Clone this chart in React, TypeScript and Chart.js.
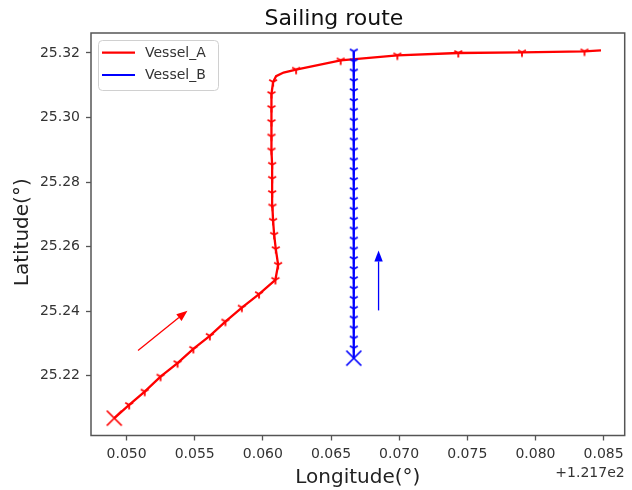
import React, { useEffect, useRef } from "react";
import { Chart, registerables } from "chart.js";

Chart.register(...registerables);

// ---- data (longitude in degrees, latitude in degrees) ----
const LON_OFFSET = 121.7;

const vesselALon = [
  121.7491, 121.75019, 121.75133, 121.75249, 121.75374, 121.7549, 121.75611, 121.75725,
  121.75846, 121.75972, 121.76092, 121.76112, 121.76095, 121.76083, 121.76075, 121.7607,
  121.76068, 121.76068, 121.76068, 121.76063, 121.76063, 121.76063, 121.76063, 121.76063,
  121.76075, 121.76097, 121.76152, 121.76244, 121.76571, 121.76987, 121.77434, 121.77901,
  121.7836, 121.78481,
];
const vesselALat = [
  25.20679, 25.21091, 25.21504, 25.21969, 25.22385, 25.22828, 25.23231, 25.23675,
  25.24109, 25.24525, 25.24968, 25.25434, 25.25921, 25.26364, 25.26798, 25.27242,
  25.27658, 25.28101, 25.28535, 25.28979, 25.29413, 25.2986, 25.30294, 25.30728,
  25.311, 25.3128, 25.31395, 25.31482, 25.3177, 25.31926, 25.32, 25.32019,
  25.3205, 25.32081,
];
// which samples carry a marker
const vesselAMarked = [
  1, 1, 1, 1, 1, 1, 1, 1, 1, 1, 1, 1, 1, 1, 1, 1,
  1, 1, 1, 1, 1, 1, 1, 1, 1, 0, 0, 1, 1, 1, 1, 1,
  1, 0,
];

const vesselBLon = [
  121.76667, 121.76667, 121.76667, 121.76667, 121.76667, 121.76667, 121.76667, 121.76667,
  121.76667, 121.76667, 121.76667, 121.76667, 121.76667, 121.76667, 121.76667, 121.76667,
  121.76667, 121.76667, 121.76667, 121.76667, 121.76667, 121.76667, 121.76667, 121.76667,
  121.76667, 121.76667, 121.76667, 121.76667, 121.76667, 121.76667, 121.76667, 121.76667,
];
const vesselBLat = [
  25.2254, 25.2285, 25.2315, 25.2346, 25.2377, 25.2407, 25.2438, 25.2469,
  25.2499, 25.253, 25.2561, 25.2591, 25.2622, 25.2653, 25.2683, 25.2714,
  25.2745, 25.2775, 25.2806, 25.2837, 25.2867, 25.2898, 25.2929, 25.2959,
  25.299, 25.3021, 25.3051, 25.3082, 25.3113, 25.3143, 25.3174, 25.3205,
];

// direction arrows: [tailLon, tailLat, tipLon, tipLat]
const arrowA = [121.75084, 25.2278, 121.75447, 25.2401];
const arrowB = [121.76849, 25.2402, 121.76849, 25.2588];

const xTicks = [121.75, 121.755, 121.76, 121.765, 121.77, 121.775, 121.78, 121.785];
const yTicks = [25.22, 25.24, 25.26, 25.28, 25.3, 25.32];

const X_MIN = 121.74739;
const X_MAX = 121.78655;
const Y_MIN = 25.20142;
const Y_MAX = 25.3262;

const TITLE = "Sailing route";
const X_LABEL = "Longitude(°)";
const Y_LABEL = "Latitude(°)";
const OFFSET_TEXT = "+1.217e2";

const RED = "#ff0000";
const BLUE = "#0000ff";
const FONT = "'DejaVu Sans', 'Liberation Sans', sans-serif";

function makeTri(color: string) {
  const c = document.createElement("canvas");
  c.width = 12;
  c.height = 12;
  const g = c.getContext("2d")!;
  g.strokeStyle = color;
  g.lineWidth = 1.8;
  const cx = 6, cy = 6, r = 4.5;
  g.beginPath();
  g.moveTo(cx, cy); g.lineTo(cx, cy + r);
  g.moveTo(cx, cy); g.lineTo(cx - r * 0.866, cy - r * 0.5);
  g.moveTo(cx, cy); g.lineTo(cx + r * 0.866, cy - r * 0.5);
  g.stroke();
  return c;
}

function makeX(color: string) {
  const c = document.createElement("canvas");
  c.width = 20;
  c.height = 20;
  const g = c.getContext("2d")!;
  g.strokeStyle = color;
  g.lineWidth = 1.7;
  const cx = 10, cy = 10, h = 7.5;
  g.beginPath();
  g.moveTo(cx - h, cy - h); g.lineTo(cx + h, cy + h);
  g.moveTo(cx + h, cy - h); g.lineTo(cx - h, cy + h);
  g.stroke();
  return c;
}

function drawArrow(ctx: CanvasRenderingContext2D, chart: any, a: number[], color: string) {
  const xs = chart.scales.x, ys = chart.scales.y;
  const x0 = xs.getPixelForValue(a[0]), y0 = ys.getPixelForValue(a[1]);
  const x1 = xs.getPixelForValue(a[2]), y1 = ys.getPixelForValue(a[3]);
  const ang = Math.atan2(y1 - y0, x1 - x0);
  const hl = 11, hw = 4.2;
  const bx = x1 - hl * Math.cos(ang), by = y1 - hl * Math.sin(ang);
  ctx.save();
  ctx.strokeStyle = color;
  ctx.fillStyle = color;
  ctx.lineWidth = 1.3;
  ctx.beginPath();
  ctx.moveTo(x0, y0);
  ctx.lineTo(bx, by);
  ctx.stroke();
  ctx.beginPath();
  ctx.moveTo(x1, y1);
  ctx.lineTo(bx + hw * Math.sin(ang), by - hw * Math.cos(ang));
  ctx.lineTo(bx - hw * Math.sin(ang), by + hw * Math.cos(ang));
  ctx.closePath();
  ctx.fill();
  ctx.restore();
}

const decor = {
  id: "decor",
  afterDatasetsDraw(chart: any) {
    const ctx = chart.ctx as CanvasRenderingContext2D;
    drawArrow(ctx, chart, arrowA, RED);
    drawArrow(ctx, chart, arrowB, BLUE);
  },
  afterDraw(chart: any) {
    const ctx = chart.ctx as CanvasRenderingContext2D;
    const { left, right, top, bottom } = chart.chartArea;
    ctx.save();
    // frame
    ctx.strokeStyle = "#555";
    ctx.lineWidth = 1.5;
    ctx.strokeRect(left, top, right - left, bottom - top);

    // legend
    const bx = left + 7.5, by = top + 7.5, bw = 120, bh = 50, r = 4;
    ctx.beginPath();
    ctx.moveTo(bx + r, by);
    ctx.arcTo(bx + bw, by, bx + bw, by + bh, r);
    ctx.arcTo(bx + bw, by + bh, bx, by + bh, r);
    ctx.arcTo(bx, by + bh, bx, by, r);
    ctx.arcTo(bx, by, bx + bw, by, r);
    ctx.closePath();
    ctx.fillStyle = "rgba(255,255,255,0.8)";
    ctx.fill();
    ctx.strokeStyle = "#d0d0d0";
    ctx.lineWidth = 1;
    ctx.stroke();
    const items = chart.data.datasets.filter((d: any) => d.label);
    items.forEach((d: any, i: number) => {
      const yy = by + 12.2 + i * 22.3;
      ctx.strokeStyle = d.borderColor;
      ctx.lineWidth = 2.2;
      ctx.beginPath();
      ctx.moveTo(bx + 3.5, yy);
      ctx.lineTo(bx + 36.5, yy);
      ctx.stroke();
      ctx.fillStyle = "#333";
      ctx.font = `14px ${FONT}`;
      ctx.textAlign = "left";
      ctx.textBaseline = "middle";
      ctx.fillText(d.label, bx + 46.5, yy + 0.5);
    });

    // title (figure-level, centred on the figure)
    ctx.fillStyle = "#111";
    ctx.font = `22px ${FONT}`;
    ctx.textAlign = "center";
    ctx.textBaseline = "alphabetic";
    ctx.fillText(TITLE, 334, top - 8.5);

    // axis labels
    ctx.fillStyle = "#222";
    ctx.font = `20px ${FONT}`;
    ctx.fillText(X_LABEL, (left + right) / 2, 483);
    ctx.save();
    ctx.translate(22.5, (top + bottom) / 2 - 2);
    ctx.rotate(-Math.PI / 2);
    ctx.textBaseline = "middle";
    ctx.fillText(Y_LABEL, 0, 0);
    ctx.restore();

    // offset text
    ctx.fillStyle = "#333";
    ctx.font = `14px ${FONT}`;
    ctx.textAlign = "right";
    ctx.textBaseline = "alphabetic";
    ctx.fillText(OFFSET_TEXT, right, 477);
    ctx.restore();
  },
};

export default function App() {
  const ref = useRef<HTMLCanvasElement | null>(null);

  useEffect(() => {
    document.body.style.margin = "0";
    const triR = makeTri(RED), triB = makeTri(BLUE);
    const xR = makeX(RED), xB = makeX(BLUE);

    const chart = new Chart(ref.current!, {
      type: "scatter",
      data: {
        datasets: [
          {
            label: "Vessel_A",
            data: vesselALon.map((x, i) => ({ x, y: vesselALat[i] })),
            borderColor: RED,
            backgroundColor: RED,
            borderWidth: 2.3,
            showLine: true,
            tension: 0,
            order: 1,
            pointStyle: vesselALon.map((_, i) => (i === 0 ? xR : triR)) as any,
            pointRadius: vesselAMarked.map((m, i) => (i === 0 || m ? 5 : 0)),
            pointHoverRadius: 0,
          },
          {
            label: "Vessel_B",
            data: vesselBLon.map((x, i) => ({ x, y: vesselBLat[i] })),
            borderColor: BLUE,
            backgroundColor: BLUE,
            borderWidth: 2.3,
            showLine: true,
            tension: 0,
            order: 0,
            pointStyle: vesselBLon.map((_, i) => (i === 0 ? xB : triB)) as any,
            pointRadius: 5,
            pointHoverRadius: 0,
          },
        ],
      },
      options: {
        responsive: false,
        animation: false,
        layout: { padding: { top: 33, right: 1.5, left: 0, bottom: 0 } },
        plugins: { legend: { display: false }, title: { display: false }, tooltip: { enabled: false } },
        events: [],
        scales: {
          x: {
            type: "linear",
            min: X_MIN,
            max: X_MAX,
            afterBuildTicks: (s: any) => {
              s.ticks = xTicks.map((v) => ({ value: v }));
            },
            afterFit: (s: any) => {
              s.height = 54.5;
              s.paddingLeft = 0;
              s.paddingRight = 0;
            },
            ticks: {
              callback: (v: any) => (Number(v) - LON_OFFSET).toFixed(3),
              font: { family: FONT, size: 14 },
              color: "#333",
              padding: 5,
              maxRotation: 0,
              autoSkip: false,
            },
            grid: {
              drawOnChartArea: false,
              drawTicks: true,
              tickLength: 5,
              tickColor: "#555",
              tickWidth: 1.3,
            },
            border: { display: false },
          },
          y: {
            type: "linear",
            min: Y_MIN,
            max: Y_MAX,
            afterBuildTicks: (s: any) => {
              s.ticks = yTicks.map((v) => ({ value: v }));
            },
            afterFit: (s: any) => {
              s.width = 91;
              s.paddingTop = 0;
              s.paddingBottom = 0;
            },
            ticks: {
              callback: (v: any) => Number(v).toFixed(2),
              font: { family: FONT, size: 14 },
              color: "#333",
              padding: 6,
              autoSkip: false,
            },
            grid: {
              drawOnChartArea: false,
              drawTicks: true,
              tickLength: 5,
              tickColor: "#555",
              tickWidth: 1.3,
            },
            border: { display: false },
          },
        },
      },
      plugins: [decor],
    });
    return () => chart.destroy();
  }, []);

  return (
    <div style={{ width: 632, height: 490 }}>
      <canvas ref={ref} width={632} height={490} style={{ display: "block" }} />
    </div>
  );
}
